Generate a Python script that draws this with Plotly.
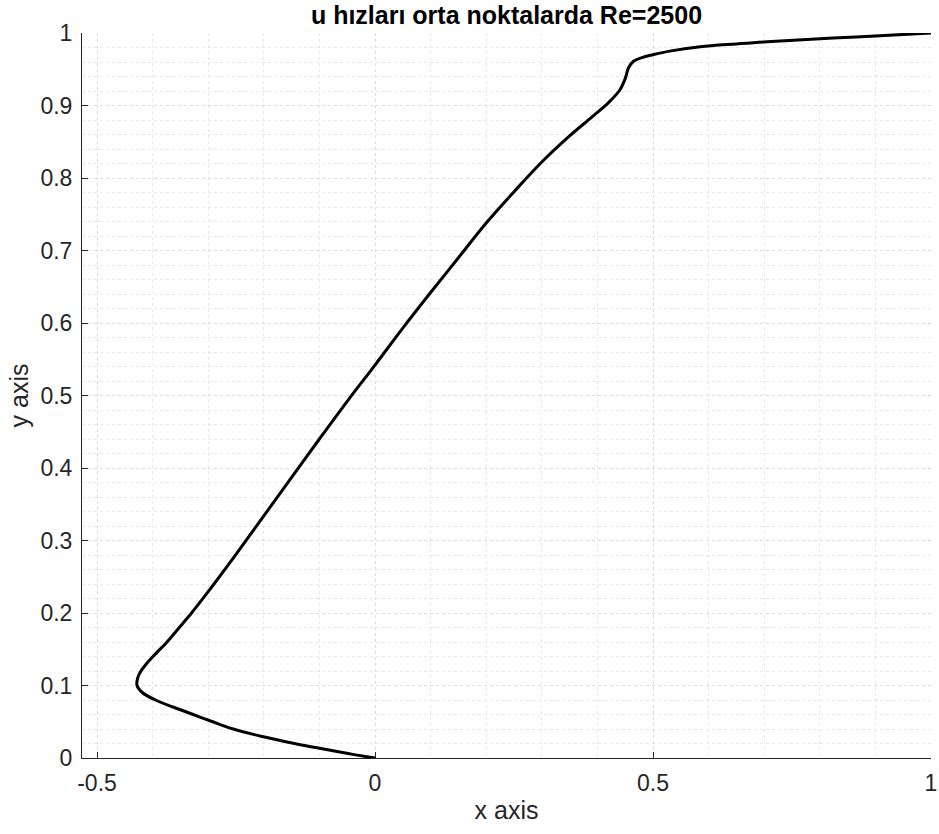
import plotly.graph_objects as go

# u velocity along vertical centerline (x = u, y = position)
u_vals = [0.0, -0.040, -0.090, -0.145, -0.205, -0.255, -0.292, -0.327, -0.362,
          -0.395, -0.418, -0.428, -0.427, -0.421, -0.411, -0.393, -0.374, -0.352,
          -0.330, -0.307, -0.250, -0.200, -0.150, -0.100, -0.050, 0.0, 0.050,
          0.100, 0.150, 0.200, 0.250, 0.300, 0.350, 0.390, 0.420, 0.440, 0.450,
          0.456, 0.465, 0.480, 0.500, 0.530, 0.585, 0.650, 0.705, 0.824, 0.900, 1.0]
y_vals = [0.0, 0.005, 0.012, 0.020, 0.030, 0.040, 0.050, 0.060, 0.070,
          0.080, 0.090, 0.100, 0.110, 0.120, 0.130, 0.145, 0.160, 0.180,
          0.200, 0.2225, 0.281, 0.334, 0.387, 0.440, 0.492, 0.542, 0.593,
          0.642, 0.690, 0.738, 0.781, 0.822, 0.858, 0.884, 0.904, 0.921, 0.937,
          0.952, 0.961, 0.966, 0.970, 0.975, 0.981, 0.985, 0.988, 0.993, 0.996, 1.0]

x_tickvals = [-0.5, 0, 0.5, 1]
x_ticktext = ["-0.5", "0", "0.5", "1"]
y_tickvals = [0, 0.1, 0.2, 0.3, 0.4, 0.5, 0.6, 0.7, 0.8, 0.9, 1]
y_ticktext = ["0", "0.1", "0.2", "0.3", "0.4", "0.5", "0.6", "0.7", "0.8", "0.9", "1"]

title_text = "u hızları orta noktalarda Re=2500"

FONT = "Liberation Sans, Arial, sans-serif"
AX = "#262626"

fig = go.Figure()
fig.add_trace(go.Scatter(x=u_vals, y=y_vals, mode="lines",
                         line=dict(color="black", width=3, shape="spline", smoothing=1.0),
                         showlegend=False, hoverinfo="skip"))

common = dict(showline=True, linecolor=AX, linewidth=1, ticks="inside", ticklen=6,
              tickcolor=AX, tickfont=dict(family=FONT, size=23, color=AX),
              gridcolor="#dcdcdc", griddash="dot", gridwidth=1, zeroline=False,
              mirror=False, automargin=False)

fig.update_layout(
    width=939, height=834,
    margin=dict(l=82, r=8, t=33, b=76),
    paper_bgcolor="white", plot_bgcolor="white",
    title=dict(text="<b>" + title_text + "</b>", x=0.5, xanchor="center",
               xref="paper", y=0.982, yanchor="middle",
               font=dict(family=FONT, size=25, color="black")),
    xaxis=dict(range=[-0.527, 1], tickvals=x_tickvals, ticktext=x_ticktext,
               title=dict(text="x axis", font=dict(family=FONT, size=25, color=AX), standoff=6),
               minor=dict(dtick=0.1, tick0=0, showgrid=True, gridcolor="#e8e8e8",
                          griddash="dot", ticks=""),
               ticklabelstandoff=4, **common),
    yaxis=dict(range=[0, 1], tickvals=y_tickvals, ticktext=y_ticktext,
               title=dict(text="y axis", font=dict(family=FONT, size=25, color=AX), standoff=4),
               minor=dict(dtick=0.02, tick0=0, showgrid=True, gridcolor="#e8e8e8",
                          griddash="dot", ticks=""),
               ticklabelstandoff=4, **common),
)

fig.write_html("out.html")
